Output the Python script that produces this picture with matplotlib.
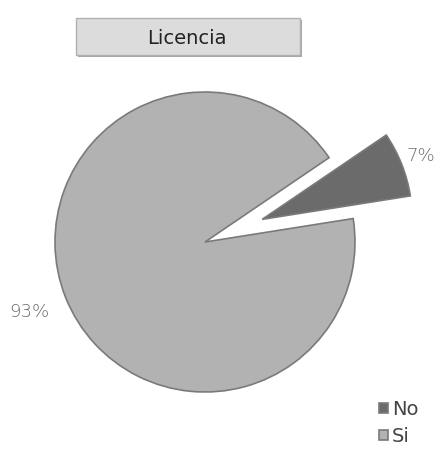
import numpy as np
import matplotlib
matplotlib.use("Agg")
import matplotlib.pyplot as plt
from matplotlib.patches import FancyBboxPatch

categories = ["No", "Si"]
values = [7, 93]
labels_pct = ["7%", "93%"]
colors = ["#6b6b6b", "#b2b2b2"]
title = "Licencia"

W, H = 447, 461
fig = plt.figure(figsize=(W / 100, H / 100), dpi=100)
ax = fig.add_axes([0, 0, 1, 1])

cx, cy, R = 205, 242, 150  # pixel center and radius
wedges, _ = ax.pie(values, colors=colors, startangle=9, counterclock=True,
                   explode=[0.41, 0.0], radius=1.0,
                   wedgeprops=dict(edgecolor="#7a7a7a", linewidth=1.2))

ax.set_xlim(-cx / R, (W - cx) / R)
ax.set_ylim((cy - H) / R, cy / R)
ax.set_aspect("auto")
ax.axis("off")

# percentage labels
dists = [1.55, 1.26]
for w, lab, d in zip(wedges, labels_pct, dists):
    ang = np.deg2rad((w.theta1 + w.theta2) / 2)
    ax.text(d * np.cos(ang), d * np.sin(ang), lab, ha="center", va="center",
            fontsize=13, color="#6a6a6a", fontweight="light")

# title box
shadow = FancyBboxPatch((78 / W, 1 - 57 / H), (300 - 76) / W, (55 - 18) / H,
                        boxstyle="square,pad=0", transform=fig.transFigure,
                        facecolor="#a8a8a8", edgecolor="none")
fig.patches.append(shadow)
box = FancyBboxPatch((76 / W, 1 - 55 / H), (300 - 76) / W, (55 - 18) / H,
                     boxstyle="square,pad=0", transform=fig.transFigure,
                     facecolor="#dcdcdc", edgecolor="#b0b0b0", linewidth=1.0)
fig.patches.append(box)
fig.text(187 / W, 1 - 38 / H, title, ha="center", va="center", fontsize=14,
         color="#222222")

leg = fig.legend(wedges, categories, loc="upper left",
                 bbox_to_anchor=(379 / W, 1 - 400 / H), frameon=False,
                 fontsize=14, handlelength=0.45, handleheight=0.45,
                 handletextpad=0.2, labelspacing=0.4, borderpad=0,
                 borderaxespad=0)
for t in leg.get_texts():
    t.set_color("#444444")

fig.savefig("out.png", dpi=100)
